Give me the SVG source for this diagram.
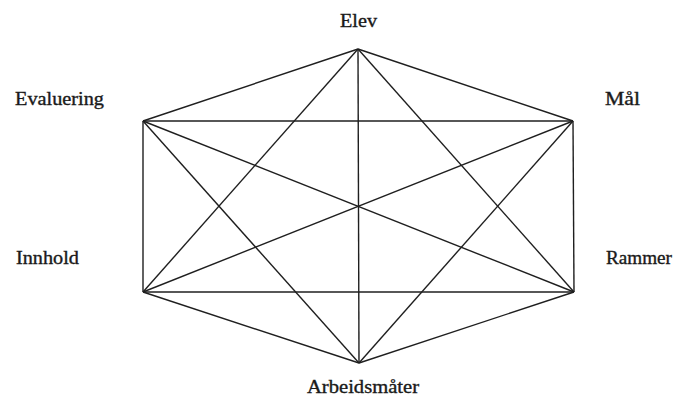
<svg xmlns="http://www.w3.org/2000/svg" width="678" height="400" viewBox="0 0 678 400">
<style>
.lbl{font-family:"Liberation Serif","Times New Roman",serif;font-size:18px;fill:#1a1a1a;stroke:#1a1a1a;stroke-width:0.35}
.ln{stroke:#1f1f1f;stroke-width:1.4;fill:none}
</style>
<rect width="678" height="400" fill="#fff"/>
<g id="connectors">
<line class="ln" x1="358" y1="49" x2="573" y2="121"/>
<line class="ln" x1="358" y1="49" x2="574" y2="292"/>
<line class="ln" x1="358" y1="49" x2="359" y2="363"/>
<line class="ln" x1="358" y1="49" x2="143" y2="292"/>
<line class="ln" x1="358" y1="49" x2="143" y2="121"/>
<line class="ln" x1="573" y1="121" x2="574" y2="292"/>
<line class="ln" x1="573" y1="121" x2="359" y2="363"/>
<line class="ln" x1="573" y1="121" x2="143" y2="292"/>
<line class="ln" x1="573" y1="121" x2="143" y2="121"/>
<line class="ln" x1="574" y1="292" x2="359" y2="363"/>
<line class="ln" x1="574" y1="292" x2="143" y2="292"/>
<line class="ln" x1="574" y1="292" x2="143" y2="121"/>
<line class="ln" x1="359" y1="363" x2="143" y2="292"/>
<line class="ln" x1="359" y1="363" x2="143" y2="121"/>
<line class="ln" x1="143" y1="292" x2="143" y2="121"/>
</g>
<g id="elev"><text class="lbl" x="340" y="27" textLength="37" lengthAdjust="spacingAndGlyphs">Elev</text></g>
<g id="maal"><text class="lbl" x="605" y="105" textLength="35" lengthAdjust="spacingAndGlyphs">Mål</text></g>
<g id="rammer"><text class="lbl" x="606" y="264" textLength="66" lengthAdjust="spacingAndGlyphs">Rammer</text></g>
<g id="arbeidsmaater"><text class="lbl" x="307" y="393" textLength="112" lengthAdjust="spacingAndGlyphs">Arbeidsmåter</text></g>
<g id="innhold"><text class="lbl" x="16" y="264" textLength="63" lengthAdjust="spacingAndGlyphs">Innhold</text></g>
<g id="evaluering"><text class="lbl" x="15" y="105" textLength="89" lengthAdjust="spacingAndGlyphs">Evaluering</text></g>
</svg>
